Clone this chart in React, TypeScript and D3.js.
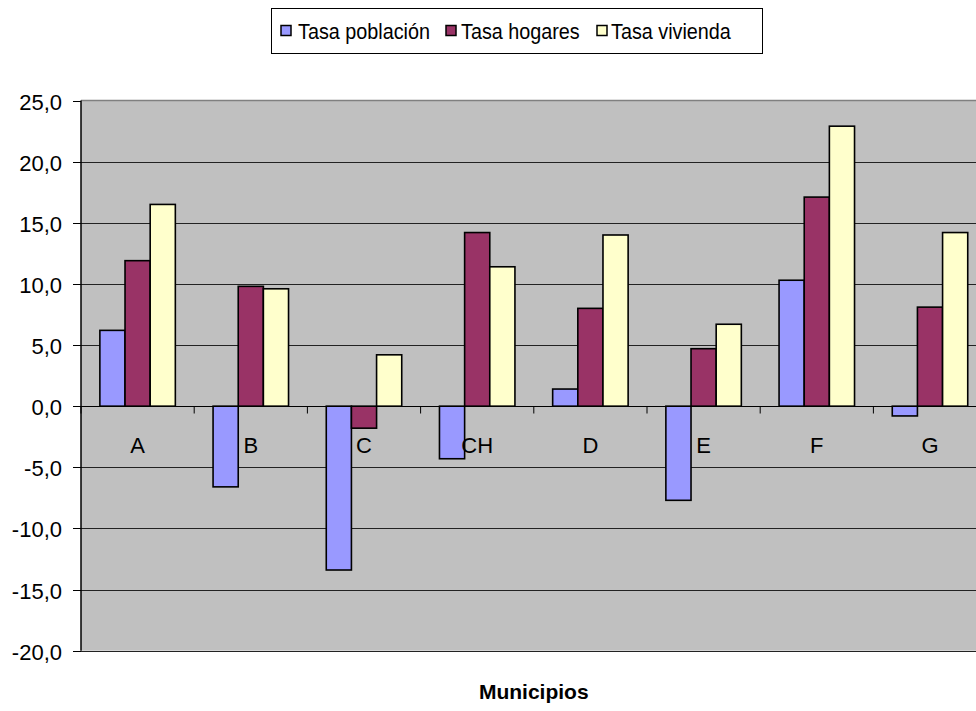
import React from "react";
import * as d3 from "d3";

const categories = ["A", "B", "C", "CH", "D", "E", "F", "G"];
const seriesNames = ["Tasa población", "Tasa hogares", "Tasa vivienda"];
const tasaPoblacion = [6.2, -6.6, -13.4, -4.3, 1.4, -7.7, 10.3, -0.8];
const tasaHogares = [11.9, 9.8, -1.8, 14.2, 8.0, 4.7, 17.1, 8.1];
const tasaVivienda = [16.5, 9.6, 4.2, 11.4, 14.0, 6.7, 22.9, 14.2];
const yTicks = [-20, -15, -10, -5, 0, 5, 10, 15, 20, 25];
const xTitle = "Municipios";

const colors = ["#9999FF", "#993366", "#FFFFCC"];
const seriesValues = [tasaPoblacion, tasaHogares, tasaVivienda];

const W = 976;
const H = 711;
const plotLeft = 81;
const plotRight = 986.6;
const plotTop = 100.5;
const plotBottom = 650.7;
const FONT = "'Liberation Sans', Arial, sans-serif";

export default function App() {
  const y = d3.scaleLinear().domain([-20, 25]).range([plotBottom, plotTop]);
  const x = d3.scaleBand<string>().domain(categories).range([plotLeft, plotRight]).paddingInner(0).paddingOuter(0);
  const bw = x.bandwidth();
  const xs = d3.scaleBand<string>().domain(seriesNames).range([0, bw]).paddingInner(0).paddingOuter(0.75);
  const fmt = (v: number) => v.toFixed(1).replace(".", ",");
  const y0 = Math.round(y(0)) + 0.5;

  const legendItems = [
    { sq: 281, tx: 298 },
    { sq: 446, tx: 461 },
    { sq: 597, tx: 611 },
  ];

  return (
    <svg width={W} height={H} style={{ position: "absolute", left: 0, top: 0, background: "#fff" }} fontFamily={FONT}>
      {/* plot area */}
      <rect x={plotLeft} y={plotTop} width={plotRight - plotLeft} height={plotBottom - plotTop} fill="#C0C0C0" />
      <line x1={plotLeft} x2={W} y1={plotTop} y2={plotTop} stroke="#808080" strokeWidth={1.5} />
      {/* gridlines */}
      {yTicks.filter((t) => t !== 25).map((t) => {
        const yy = Math.round(y(t)) + 0.5;
        return <line key={"g" + t} x1={plotLeft} x2={plotRight} y1={yy} y2={yy} stroke="#222" strokeWidth={1} />;
      })}
      {/* y axis */}
      <line x1={plotLeft} x2={plotLeft} y1={plotTop} y2={plotBottom} stroke="#000" strokeWidth={1.5} />
      {yTicks.map((t) => {
        const yy = Math.round(y(t)) + 0.5;
        return (
          <g key={"t" + t}>
            <line x1={plotLeft - 8} x2={plotLeft} y1={yy} y2={yy} stroke="#000" strokeWidth={1} />
            <text x={62} y={yy + 8} textAnchor="end" fontSize={22} fill="#000">
              {fmt(t)}
            </text>
          </g>
        );
      })}
      {/* bars */}
      {categories.map((c, i) => (
        <g key={c}>
          {seriesNames.map((s, j) => {
            const v = seriesValues[j][i];
            const top = Math.min(y(v), y(0));
            const h = Math.abs(y(v) - y(0));
            return (
              <rect
                key={s}
                x={(x(c) as number) + (xs(s) as number)}
                y={top}
                width={xs.bandwidth()}
                height={h}
                fill={colors[j]}
                stroke="#000"
                strokeWidth={1.6}
              />
            );
          })}
        </g>
      ))}
      {/* x axis */}
      <line x1={plotLeft} x2={plotRight} y1={y0} y2={y0} stroke="#000" strokeWidth={1.2} />
      {categories.map((c) => (
        <line key={"xt" + c} x1={(x(c) as number)} x2={(x(c) as number)} y1={y0} y2={y0 + 7} stroke="#000" strokeWidth={1} />
      ))}
      {categories.map((c) => (
        <text key={"xl" + c} x={(x(c) as number) + bw / 2} y={453} textAnchor="middle" fontSize={22} fill="#000">
          {c}
        </text>
      ))}
      {/* x title */}
      <text x={(plotLeft + plotRight) / 2} y={699} textAnchor="middle" fontSize={21} fontWeight="bold" fill="#000">
        {xTitle}
      </text>
      {/* legend */}
      <rect x={271.5} y={8.5} width={491} height={45} fill="#fff" stroke="#000" strokeWidth={1} />
      {seriesNames.map((s, j) => (
        <g key={"lg" + s}>
          <rect x={legendItems[j].sq} y={25.5} width={10} height={10} fill={colors[j]} stroke="#000" strokeWidth={1.5} />
          <text transform={`translate(${legendItems[j].tx},39) scale(0.9,1)`} fontSize={22} fill="#000">
            {s}
          </text>
        </g>
      ))}
    </svg>
  );
}
